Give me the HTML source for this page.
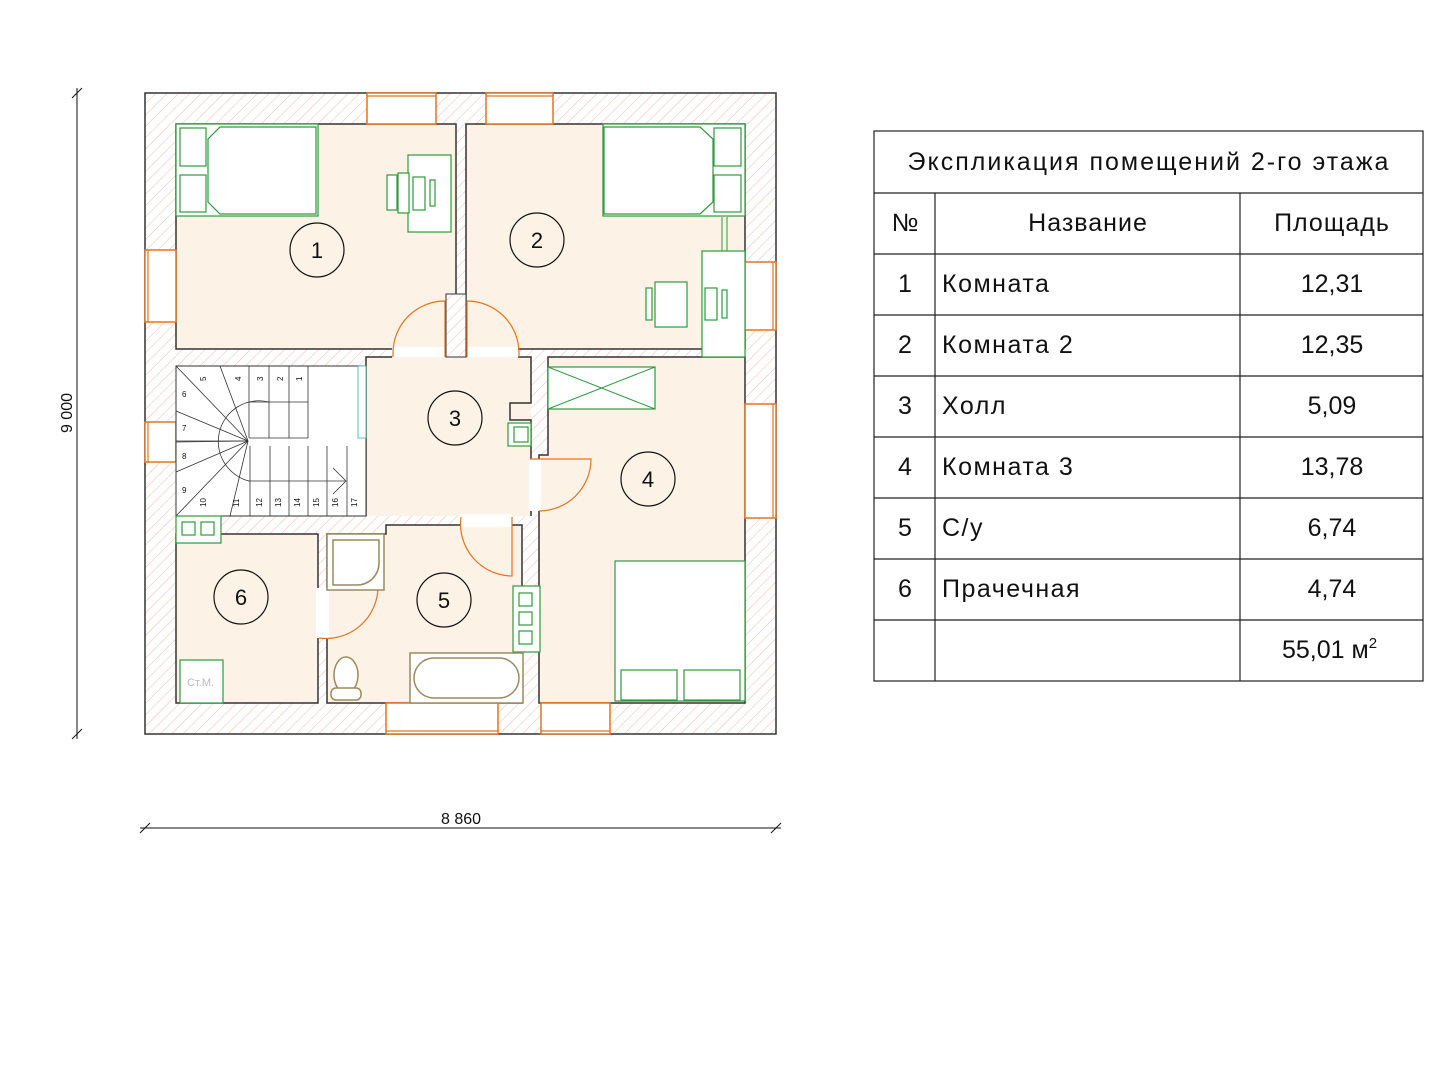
<!DOCTYPE html>
<html><head><meta charset="utf-8"><style>
html,body{margin:0;padding:0;background:#fff;width:1440px;height:1080px;overflow:hidden}
svg{display:block}
.t{font-family:"Liberation Sans","DejaVu Sans",sans-serif;fill:#111}
</style></head><body>
<svg width="1440" height="1080" viewBox="0 0 1440 1080" xmlns="http://www.w3.org/2000/svg">
<defs>
<pattern id="h" width="8" height="8" patternUnits="userSpaceOnUse" patternTransform="rotate(45)">
<rect width="8" height="8" fill="#fff"/><line x1="0" y1="0" x2="0" y2="8" stroke="#f2b9b4" stroke-width="1"/>
</pattern>
</defs>
<!-- walls -->
<rect x="145" y="93" width="631" height="641" fill="url(#h)" stroke="#333" stroke-width="1.5"/>
<g fill="#fdf2e6" stroke="#333" stroke-width="1.5">
<rect x="176" y="124" width="280" height="225"/>
<rect x="466" y="124" width="279" height="225"/>
<path d="M392 349 H518 V357 H531 V516 H366 V357 H392 Z" stroke="none"/>
<path d="M366 366 V357 H392 M518 357 H531 V403 H510 V420 H531 V516 M366 516 V366"/>
<rect x="176" y="534" width="142" height="169"/>
<path d="M327 534 H386 V525 H522 V703 H327 Z"/>
<path d="M548 357 H745 V703 H539 V455 H548 Z"/>
</g>
<!-- windows -->
<g fill="#fff" stroke="#e8731e" stroke-width="1.5">
<rect x="367" y="93" width="69" height="31"/>
<rect x="486" y="93" width="67" height="31"/>
<rect x="145" y="250" width="31" height="72"/>
<rect x="145" y="422" width="31" height="40"/>
<rect x="745" y="262" width="31" height="68"/>
<rect x="745" y="404" width="31" height="114"/>
<rect x="386" y="703" width="112" height="31"/>
<rect x="541" y="703" width="69" height="31"/>
</g>
<g stroke="#e8731e" stroke-width="1.2" fill="none">
<line x1="367" y1="96" x2="436" y2="96"/><line x1="486" y1="96" x2="553" y2="96"/>
<line x1="148" y1="250" x2="148" y2="322"/><line x1="148" y1="422" x2="148" y2="462"/>
<line x1="773" y1="262" x2="773" y2="330"/><line x1="773" y1="404" x2="773" y2="518"/>
<line x1="386" y1="731" x2="498" y2="731"/><line x1="541" y1="731" x2="610" y2="731"/>
</g>
<!-- stairs -->
<rect x="176" y="366" width="190" height="150" fill="#fff" stroke="#333" stroke-width="1"/>
<g stroke="#333" stroke-width="0.8" fill="none">
<line x1="249" y1="366" x2="249" y2="438"/><line x1="269" y1="366" x2="269" y2="438"/><line x1="289" y1="366" x2="289" y2="438"/><line x1="308" y1="366" x2="308" y2="438"/>
<line x1="249" y1="402" x2="308" y2="402"/><line x1="249" y1="438" x2="308" y2="438"/>
<line x1="250" y1="446" x2="250" y2="516"/><line x1="270" y1="446" x2="270" y2="516"/><line x1="289" y1="446" x2="289" y2="516"/><line x1="308" y1="446" x2="308" y2="516"/><line x1="327" y1="446" x2="327" y2="516"/><line x1="347" y1="446" x2="347" y2="516"/>
<line x1="248" y1="481" x2="345" y2="481"/>
<path d="M333 468 L346 481 L333 494"/>
<line x1="248" y1="441" x2="176" y2="366"/><line x1="248" y1="441" x2="220" y2="366"/><line x1="248" y1="441" x2="176" y2="411"/><line x1="248" y1="441" x2="176" y2="442"/><line x1="248" y1="441" x2="176" y2="472"/><line x1="248" y1="441" x2="176" y2="516"/><line x1="248" y1="441" x2="230" y2="516"/>
<path d="M269 402 A36 36 0 0 0 249 481"/>
<line x1="176" y1="441" x2="248" y2="441"/>
</g>
<rect x="358" y="366" width="8" height="72" fill="#fff" stroke="#4aa" stroke-width="0.8"/>
<g class="t" font-size="8">
<text x="201" y="382" transform="rotate(-90 203 379)">5</text><text x="236" y="382" transform="rotate(-90 238 379)">4</text><text x="258" y="382" transform="rotate(-90 260 379)">3</text><text x="278" y="382" transform="rotate(-90 280 379)">2</text><text x="297" y="382" transform="rotate(-90 299 379)">1</text>
<text x="182" y="397">6</text><text x="182" y="431">7</text><text x="182" y="459">8</text><text x="182" y="493">9</text>
<text x="201" y="508" transform="rotate(-90 203 505)">10</text><text x="234" y="508" transform="rotate(-90 236 505)">11</text><text x="257" y="508" transform="rotate(-90 259 505)">12</text><text x="276" y="508" transform="rotate(-90 278 505)">13</text><text x="295" y="508" transform="rotate(-90 297 505)">14</text><text x="314" y="508" transform="rotate(-90 316 505)">15</text><text x="333" y="508" transform="rotate(-90 335 505)">16</text><text x="352" y="508" transform="rotate(-90 354 505)">17</text>
</g>
<!-- door openings -->
<g fill="#fff">
<rect x="392" y="347" width="54" height="10"/><rect x="466" y="347" width="52" height="10"/>
<rect x="529" y="459" width="12" height="52"/><rect x="460" y="514" width="52" height="13"/>
<rect x="316" y="588" width="13" height="50"/>
</g>
<rect x="446" y="294" width="20" height="63" fill="url(#h)" stroke="#333" stroke-width="1"/>
<g stroke="#e8731e" stroke-width="1.2" fill="none">
<path d="M393 357 V353 A52 52 0 0 1 445 301 V357"/>
<path d="M467 357 V301 A52 52 0 0 1 519 353 V357"/>
<path d="M530 459 H591 A52 52 0 0 1 539 511"/>
<path d="M461 517 A52 52 0 0 0 512 576 V517"/>
<path d="M319 638 A52 52 0 0 0 378 588 H327"/>
</g>
<!-- furniture green -->
<g fill="#fff" stroke="#2e9a3e" stroke-width="1.2">
<rect x="176" y="124" width="142" height="92"/>
<rect x="180" y="128" width="26" height="38"/><rect x="180" y="175" width="26" height="37"/>
<path d="M220 127 H316 V214 H220 L208 202 V139 Z"/>
<rect x="408" y="155" width="43" height="77"/>
<rect x="387" y="175" width="10" height="35"/><rect x="398" y="173" width="11" height="40"/><rect x="413" y="177" width="12" height="33"/><rect x="430" y="180" width="5" height="26"/>
<rect x="603" y="124" width="142" height="92"/>
<path d="M604 127 H700 L713 139 V202 L700 214 H604 Z"/>
<rect x="714" y="128" width="27" height="38"/><rect x="714" y="175" width="27" height="37"/>
<rect x="702" y="251" width="43" height="106"/>
<rect x="655" y="282" width="32" height="45"/><rect x="646" y="288" width="6" height="32"/>
<rect x="705" y="288" width="12" height="32"/><rect x="722" y="290" width="5" height="28"/>
<rect x="548" y="367" width="107" height="42"/>
<rect x="615" y="561" width="130" height="140"/>
<rect x="621" y="670" width="56" height="30"/><rect x="684" y="670" width="56" height="30"/>
<rect x="176" y="516" width="45" height="27"/><rect x="182" y="522" width="13" height="13"/><rect x="201" y="522" width="13" height="13"/>
<rect x="508" y="423" width="23" height="23"/><rect x="514" y="427" width="14" height="15"/>
<rect x="513" y="586" width="27" height="66"/><rect x="519" y="593" width="13" height="13"/><rect x="519" y="612" width="13" height="13"/><rect x="519" y="631" width="13" height="13"/>
<rect x="180" y="660" width="43" height="43"/>
</g>
<g stroke="#2e9a3e" stroke-width="1"><line x1="548" y1="367" x2="655" y2="409"/><line x1="548" y1="409" x2="655" y2="367"/><line x1="722" y1="217" x2="722" y2="251"/><line x1="727" y1="217" x2="727" y2="251"/></g>
<text x="187" y="686" font-size="11" fill="#bbb" font-family="Liberation Sans,sans-serif">Ст.М.</text>
<!-- bathroom fixtures -->
<g fill="#fff" stroke="#9b8a5e" stroke-width="1.5">
<rect x="327" y="534" width="57" height="56"/>
<path d="M333 540 H379 V563 A22 22 0 0 1 357 585 H333 Z"/>
<rect x="410" y="653" width="113" height="50"/>
<rect x="414" y="658" width="105" height="40" rx="20"/>
<ellipse cx="346" cy="675" rx="12" ry="18"/>
<rect x="331" y="688" width="30" height="12" rx="5"/>
</g>
<!-- room markers -->
<g fill="none" stroke="#111" stroke-width="1.2">
<circle cx="317" cy="250" r="27"/><circle cx="537" cy="240" r="27"/><circle cx="455" cy="418" r="27"/><circle cx="648" cy="479" r="27"/><circle cx="444" cy="600" r="27"/><circle cx="241" cy="597" r="27"/>
</g>
<g class="t" font-size="22" text-anchor="middle">
<text x="317" y="258">1</text><text x="537" y="248">2</text><text x="455" y="426">3</text><text x="648" y="487">4</text><text x="444" y="608">5</text><text x="241" y="605">6</text>
</g>
<!-- dimensions -->
<g stroke="#111" stroke-width="1">
<line x1="77" y1="88" x2="77" y2="739"/><line x1="72" y1="98" x2="82" y2="88"/><line x1="72" y1="739" x2="82" y2="729"/>
<line x1="140" y1="828" x2="781" y2="828"/><line x1="140" y1="833" x2="150" y2="823"/><line x1="771" y1="833" x2="781" y2="823"/>
</g>
<text class="t" font-size="16" x="461" y="824" text-anchor="middle">8 860</text>
<text class="t" font-size="16" x="72" y="413" text-anchor="middle" transform="rotate(-90 72 413)">9 000</text>
<!-- table -->
<g stroke="#222" stroke-width="1.2" fill="none">
<rect x="874" y="131" width="549" height="550"/>
<line x1="874" y1="193" x2="1423" y2="193"/><line x1="874" y1="254" x2="1423" y2="254"/><line x1="874" y1="315" x2="1423" y2="315"/><line x1="874" y1="376" x2="1423" y2="376"/><line x1="874" y1="437" x2="1423" y2="437"/><line x1="874" y1="498" x2="1423" y2="498"/><line x1="874" y1="559" x2="1423" y2="559"/><line x1="874" y1="620" x2="1423" y2="620"/>
<line x1="935" y1="193" x2="935" y2="681"/><line x1="1240" y1="193" x2="1240" y2="681"/>
</g>
<g class="t" font-size="25">
<text x="1149" y="170" text-anchor="middle" letter-spacing="2">Экспликация помещений 2-го этажа</text>
<text x="905" y="231" text-anchor="middle">№</text>
<text x="1088" y="231" text-anchor="middle" letter-spacing="1">Название</text>
<text x="1332" y="231" text-anchor="middle" letter-spacing="1">Площадь</text>
<text x="905" y="292" text-anchor="middle">1</text><text x="905" y="353" text-anchor="middle">2</text><text x="905" y="414" text-anchor="middle">3</text><text x="905" y="475" text-anchor="middle">4</text><text x="905" y="536" text-anchor="middle">5</text><text x="905" y="597" text-anchor="middle">6</text>
<g letter-spacing="1.5"><text x="942" y="292">Комната</text><text x="942" y="353">Комната 2</text><text x="942" y="414">Холл</text><text x="942" y="475">Комната 3</text><text x="942" y="536">С/у</text><text x="942" y="597">Прачечная</text></g>
<g text-anchor="middle"><text x="1332" y="292">12,31</text><text x="1332" y="353">12,35</text><text x="1332" y="414">5,09</text><text x="1332" y="475">13,78</text><text x="1332" y="536">6,74</text><text x="1332" y="597">4,74</text></g>
<text x="1282" y="658">55,01 м<tspan font-size="15" dy="-10">2</tspan></text>
</g>
</svg>
</body></html>
